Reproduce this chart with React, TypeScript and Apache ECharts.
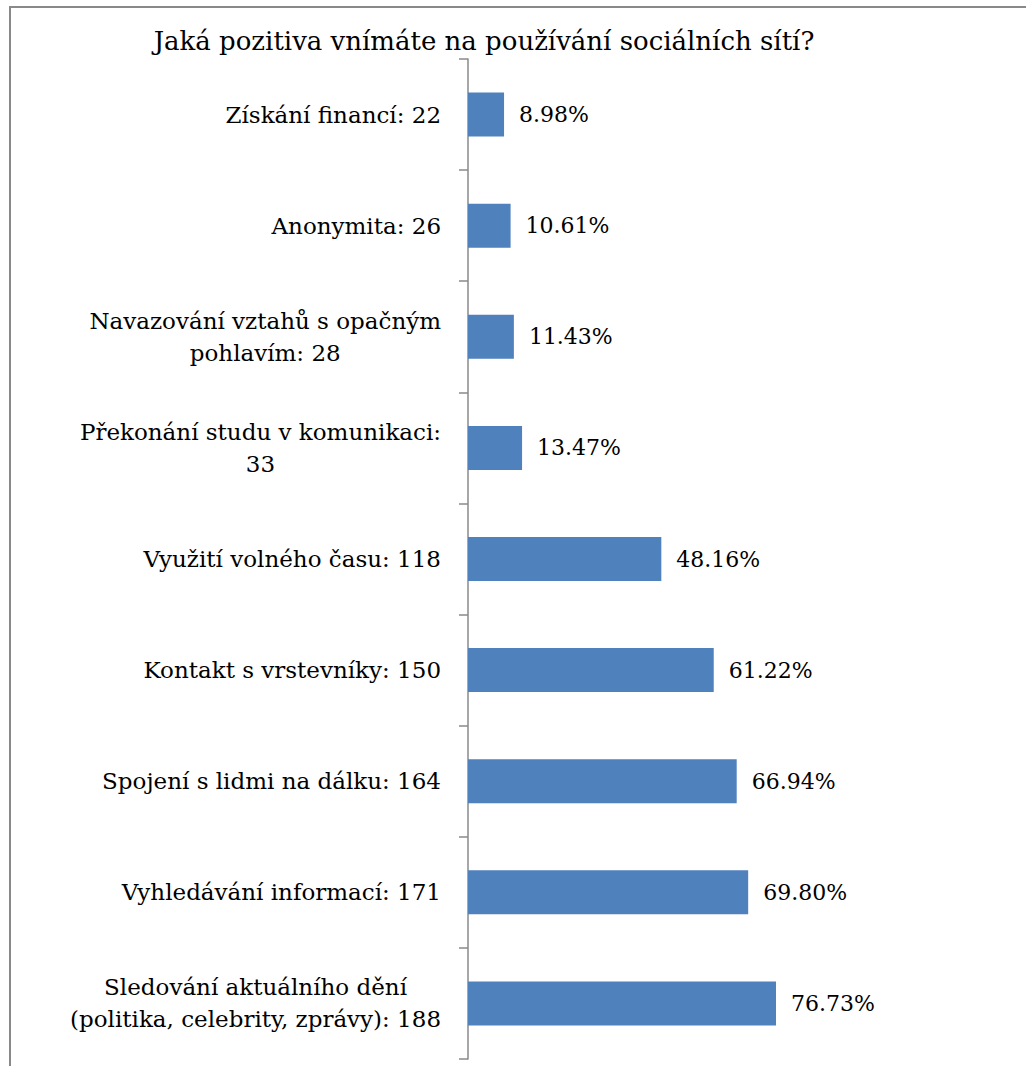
import React, { useEffect, useRef } from "react";
import * as echarts from "echarts";

const categories: string[][] = [
  ["Získání financí: 22"],
  ["Anonymita: 26"],
  ["Navazování vztahů s opačným", "pohlavím: 28"],
  ["Překonání studu v komunikaci:", "33"],
  ["Využití volného času: 118"],
  ["Kontakt s vrstevníky: 150"],
  ["Spojení s lidmi na dálku: 164"],
  ["Vyhledávání informací: 171"],
  ["Sledování aktuálního dění", "(politika, celebrity, zprávy): 188"],
];
const percents: number[] = [8.98, 10.61, 11.43, 13.47, 48.16, 61.22, 66.94, 69.8, 76.73];
const titleText = "Jaká pozitiva vnímáte na používání sociálních sítí?";

const FONT = "DejaVu Serif";
const FS = 23;

export default function App() {
  const ref = useRef<HTMLDivElement>(null);
  useEffect(() => {
    if (!ref.current) return;
    const chart = echarts.init(ref.current, undefined, { renderer: "svg" });
    chart.setOption({
      animation: false,
      backgroundColor: "#ffffff",
      title: {
        text: titleText,
        left: 479,
        top: 23,
        textAlign: "center",
        textStyle: { fontFamily: FONT, fontSize: 26, fontWeight: "normal", color: "#000" },
      },
      graphic: [
        {
          type: "rect",
          shape: { x: 10, y: 7, width: 1030, height: 1080 },
          style: { fill: "none", stroke: "#898989", lineWidth: 2 },
          silent: true,
        },
      ],
      grid: { left: 468, top: 59, width: 401.4, height: 1000, containLabel: false },
      xAxis: {
        type: "value",
        min: 0,
        max: 100,
        show: false,
      },
      yAxis: {
        type: "category",
        inverse: true,
        data: categories.map((c) => c.join("\n")),
        axisLine: { show: true, lineStyle: { color: "#8a8a8a", width: 1.5 } },
        axisTick: { show: true, length: 9, inside: false, lineStyle: { color: "#8a8a8a", width: 1.5 } },
        axisLabel: {
          margin: 27,
          formatter: (v: string) => v.split("\n").map((l) => "{c|" + l + "}").join("\n"),
          rich: {
            c: { align: "center", fontFamily: FONT, fontSize: FS, color: "#000", lineHeight: 32 },
          },
          fontFamily: FONT,
          fontSize: FS,
          color: "#000",
        },
        splitLine: { show: false },
      },
      series: [
        {
          type: "bar",
          data: percents,
          barWidth: 44,
          itemStyle: { color: "#4f81bd" },
          label: {
            show: true,
            position: "right",
            distance: 15,
            formatter: (p: any) => p.value.toFixed(2) + "%",
            fontFamily: FONT,
            fontSize: 22,
            color: "#000",
          },
        },
      ],
    });
    return () => chart.dispose();
  }, []);
  return (
    <div
      ref={ref}
      style={{ position: "fixed", left: 0, top: 0, width: 1026, height: 1066 }}
    />
  );
}
